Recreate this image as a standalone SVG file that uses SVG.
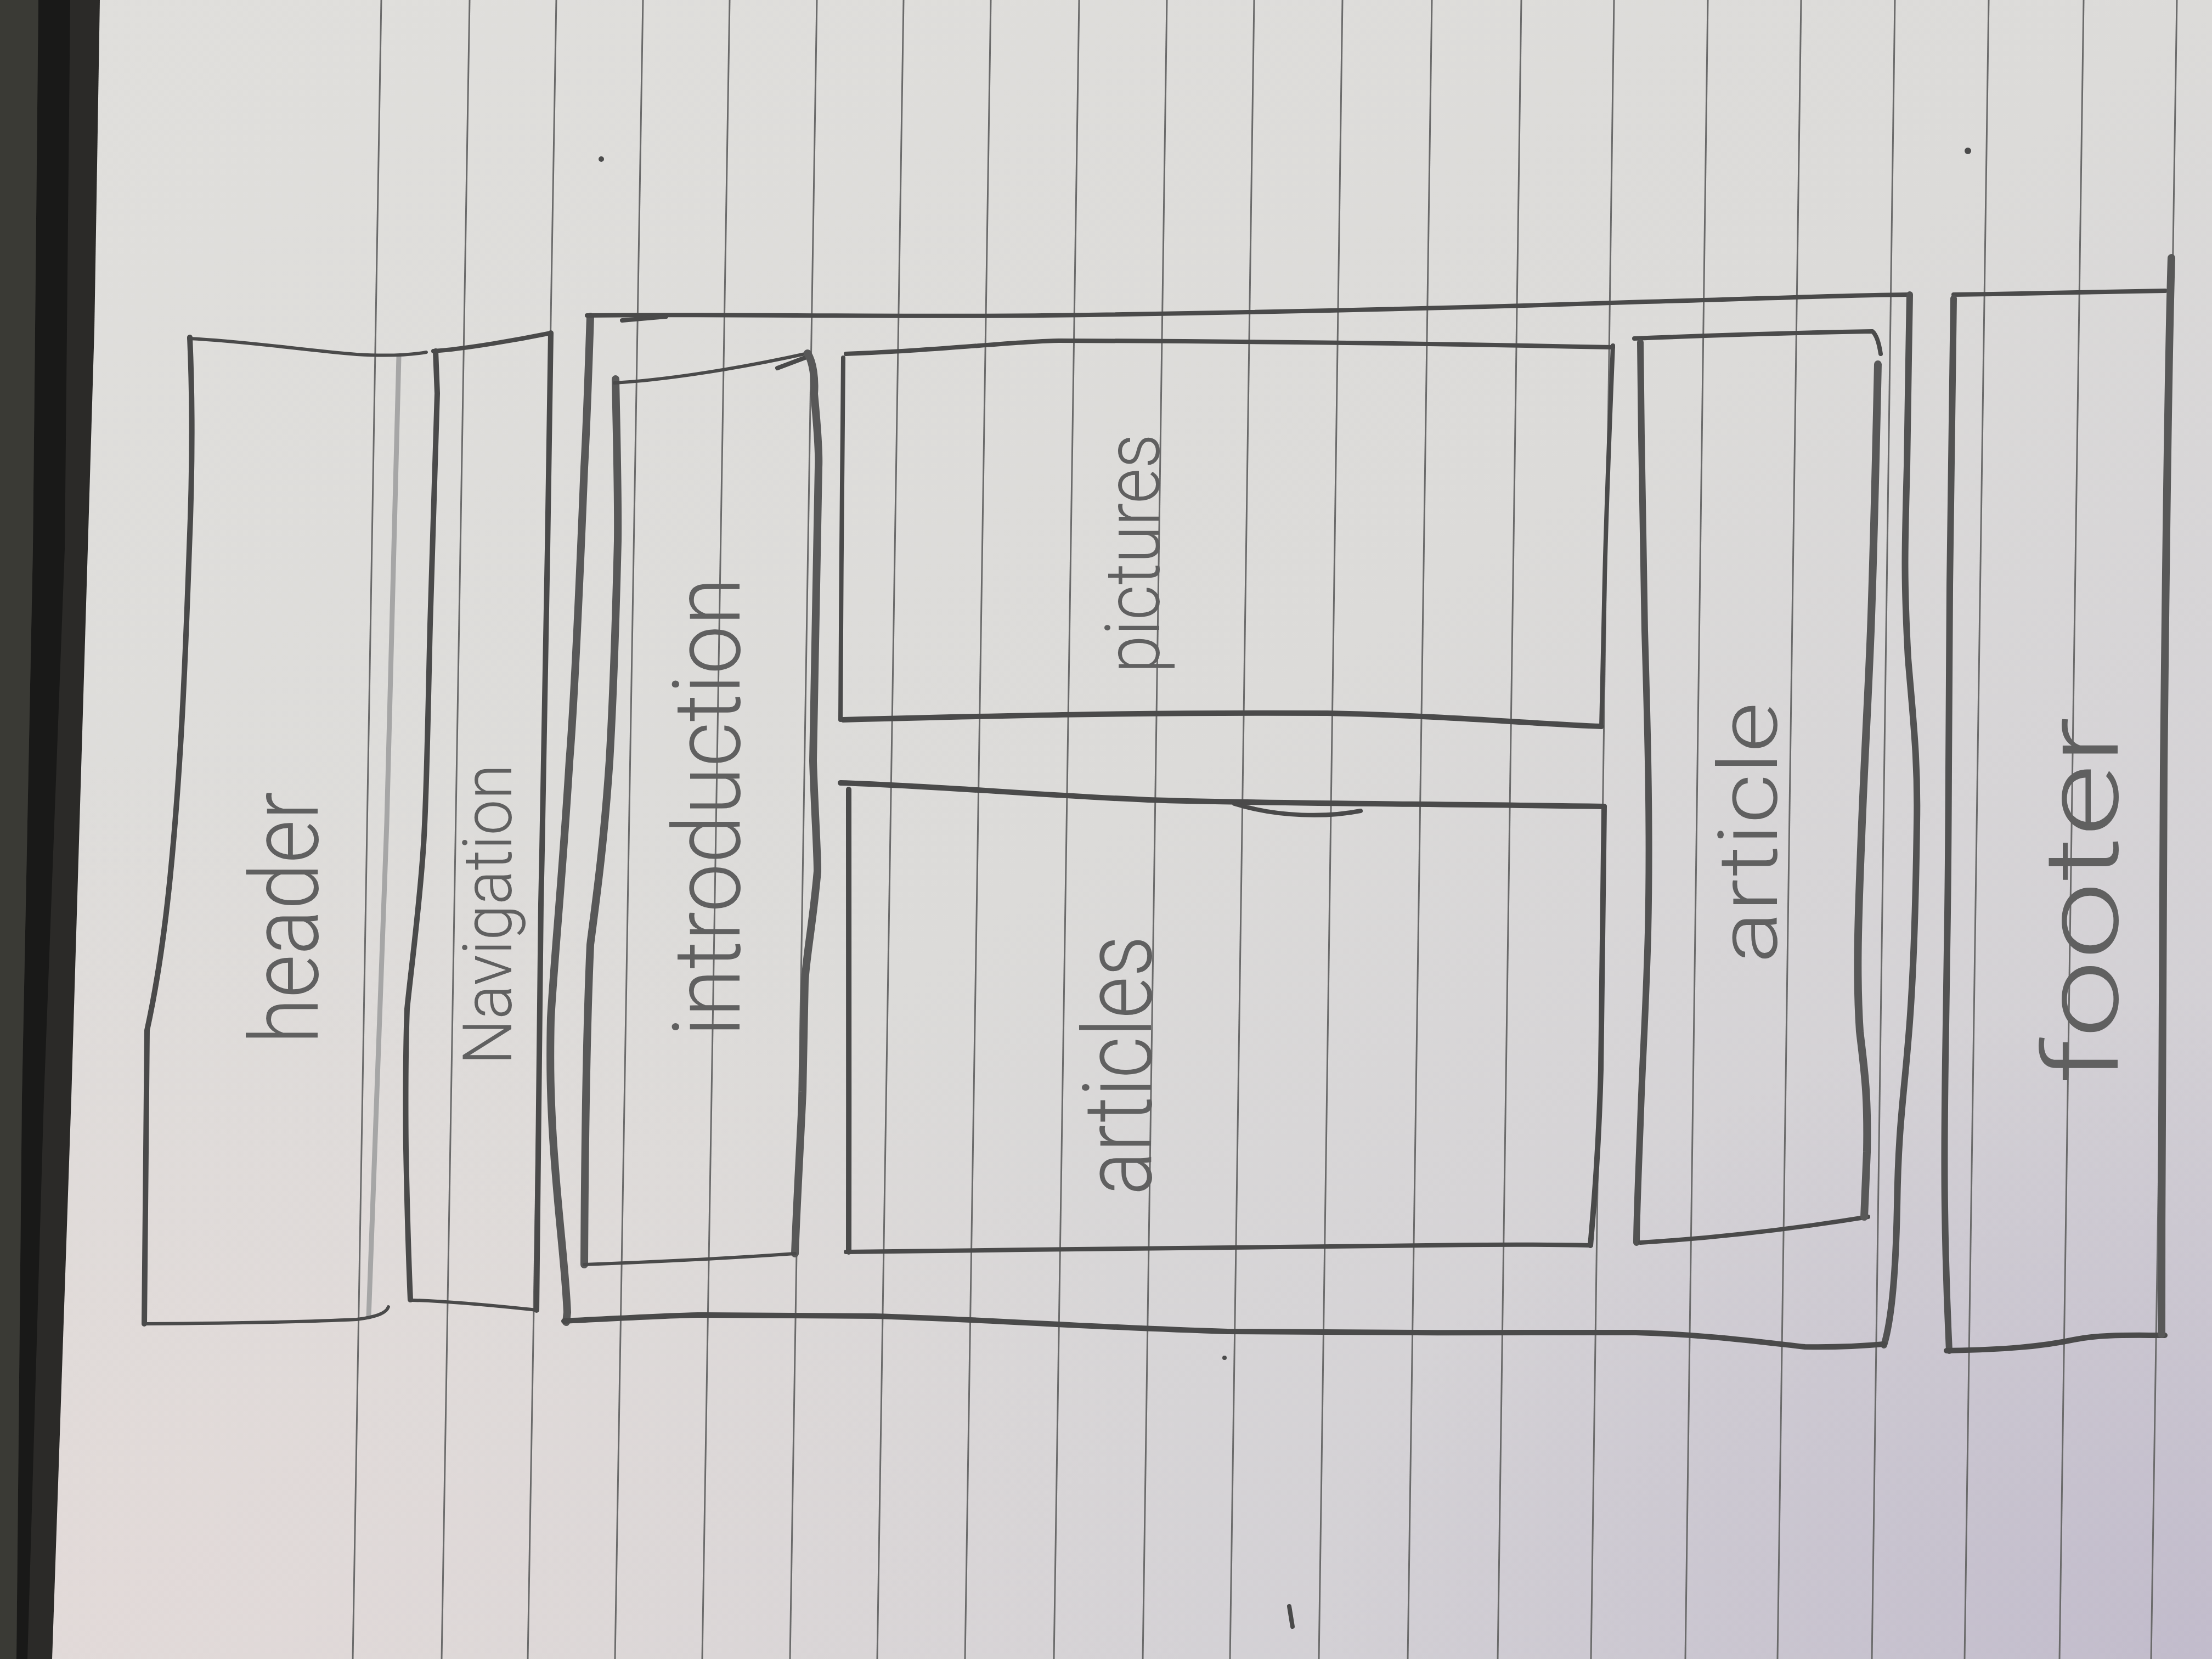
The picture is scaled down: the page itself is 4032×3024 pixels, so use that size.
<svg xmlns="http://www.w3.org/2000/svg" width="4032" height="3024" viewBox="0 0 4032 3024">
  <defs>
    <linearGradient id="paperShade" x1="0" y1="0" x2="1" y2="1">
      <stop offset="0" stop-color="#e0dfdc"/>
      <stop offset="0.5" stop-color="#dcdbd9"/>
      <stop offset="1" stop-color="#cdc9d2"/>
    </linearGradient>
    <radialGradient id="warmCorner" cx="0.05" cy="0.95" r="0.5">
      <stop offset="0" stop-color="#e6d9d8" stop-opacity="0.6"/>
      <stop offset="1" stop-color="#e6d9d8" stop-opacity="0"/>
    </radialGradient>
    <radialGradient id="coolCorner" cx="1" cy="1" r="0.4">
      <stop offset="0" stop-color="#bdb6c9" stop-opacity="0.7"/>
      <stop offset="1" stop-color="#bdb6c9" stop-opacity="0"/>
    </radialGradient>
  </defs>
  <style>
    .rule { stroke: #6a6a6a; stroke-width: 3; fill: none; }
    .pen { fill: none; stroke: #4a4a4a; stroke-linecap: round; stroke-linejoin: round; }
    .w4 { stroke-width: 6; }
    .w6 { stroke-width: 8; }
    .w8 { stroke-width: 10; }
    .w10 { stroke-width: 12; stroke: #525252; }
    .w12 { stroke-width: 14; stroke: #585858; }
    .faint { stroke: #a6a6a6; stroke-width: 9; }
    .label { font-family: Roboto, Lato, "Liberation Sans", sans-serif; font-weight: 300; fill: #606060; text-anchor: middle; }
    .dot { fill: #4b4b4b; }
  </style>

  <!-- desk and page -->
  <g id="paper">
    <rect x="0" y="0" width="4032" height="3024" fill="url(#paperShade)"/>
    <rect x="0" y="0" width="4032" height="3024" fill="url(#warmCorner)"/>
    <rect x="0" y="0" width="4032" height="3024" fill="url(#coolCorner)"/>
    <polygon points="0,0 182,0 172,600 160,1000 130,2000 95,3024 0,3024" fill="#2b2a28"/>
    <polygon points="70,0 128,0 118,1000 80,2000 50,3024 30,3024 40,2000 60,1000" fill="#191918"/>
    <polygon points="0,0 70,0 60,1000 40,2000 30,3024 0,3024" fill="#3a3a35"/>
  </g>

  <!-- ruled lines -->
  <g id="rules">
    <line class="rule" x1="695" y1="0" x2="643" y2="3024"/>
    <line class="rule" x1="856" y1="0" x2="805" y2="3024"/>
    <line class="rule" x1="1014" y1="0" x2="962" y2="3024"/>
    <line class="rule" x1="1172" y1="0" x2="1121" y2="3024"/>
    <line class="rule" x1="1330" y1="0" x2="1280" y2="3024"/>
    <line class="rule" x1="1489" y1="0" x2="1440" y2="3024"/>
    <line class="rule" x1="1647" y1="0" x2="1599" y2="3024"/>
    <line class="rule" x1="1806" y1="0" x2="1759" y2="3024"/>
    <line class="rule" x1="1967" y1="0" x2="1921" y2="3024"/>
    <line class="rule" x1="2127" y1="0" x2="2083" y2="3024"/>
    <line class="rule" x1="2286" y1="0" x2="2242" y2="3024"/>
    <line class="rule" x1="2447" y1="0" x2="2404" y2="3024"/>
    <line class="rule" x1="2610" y1="0" x2="2566" y2="3024"/>
    <line class="rule" x1="2773" y1="0" x2="2730" y2="3024"/>
    <line class="rule" x1="2942" y1="0" x2="2900" y2="3024"/>
    <line class="rule" x1="3113" y1="0" x2="3072" y2="3024"/>
    <line class="rule" x1="3283" y1="0" x2="3240" y2="3024"/>
    <line class="rule" x1="3454" y1="0" x2="3412" y2="3024"/>
    <line class="rule" x1="3625" y1="0" x2="3581" y2="3024"/>
    <line class="rule" x1="3798" y1="0" x2="3754" y2="3024"/>
    <line class="rule" x1="3968" y1="0" x2="3921" y2="3024"/>
  </g>

  <!-- header block -->
  <g id="header">
    <path class="pen faint" d="M727,650 C722,900 715,1200 705,1500 C695,1800 685,2100 672,2400"/>
    <path class="pen w8" d="M346,615 C352,750 350,880 345,1000 C338,1200 330,1400 310,1600 C298,1720 285,1800 268,1878 L266,2100 L263,2413"/>
    <path class="pen w4" d="M344,617 C450,622 550,638 650,646 C720,650 760,645 777,642"/>
    <path class="pen w4" d="M265,2413 C400,2412 550,2410 650,2405 C690,2400 705,2392 708,2382"/>
    <text class="label" font-size="175" textLength="460" lengthAdjust="spacingAndGlyphs" transform="translate(579,1673) rotate(-90)">header</text>
  </g>

  <!-- navigation block -->
  <g id="navigation">
    <path class="pen w8" d="M794,640 L797,717 C792,900 788,1050 784,1138 C780,1300 778,1450 772,1540 C765,1650 750,1760 742,1839 C738,1950 740,2094 740,2094 C742,2200 745,2300 748,2369"/>
    <path class="pen w6" d="M790,640 C850,636 950,618 1004,607"/>
    <path class="pen w8" d="M1004,607 C1003,750 1001,883 998,1000 C995,1265 990,1450 986,1648 C984,1850 981,2031 980,2200 L978,2388"/>
    <path class="pen w4" d="M751,2370 C830,2372 920,2382 978,2388"/>
    <text class="label" font-size="125" textLength="548" lengthAdjust="spacingAndGlyphs" transform="translate(932,1667) rotate(-90)">Navigation</text>
  </g>

  <!-- main content frame -->
  <g id="main">
    <path class="pen w12" d="M1076,577 C1072,700 1068,800 1065,852 C1055,1100 1045,1300 1038,1387 C1025,1600 1010,1750 1004,1856 C1002,1950 1004,2000 1007,2057 C1015,2200 1030,2300 1034,2392 L1032,2410"/>
    <path class="pen w6" d="M1070,575 C1300,572 1600,578 1900,575 C2300,570 2700,560 3000,550 C3200,545 3350,538 3481,537"/>
    <path class="pen w10" d="M3481,537 C3479,650 3478,718 3476,850 C3472,1000 3470,1053 3478,1200 C3488,1320 3496,1387 3494,1500 C3492,1650 3488,1789 3478,1900 C3470,2000 3460,2057 3458,2200 C3456,2300 3450,2400 3434,2452"/>
    <path class="pen w8" d="M1028,2408 C1150,2402 1250,2396 1285,2397 C1400,2398 1500,2398 1594,2399 C1800,2405 2000,2420 2237,2427 C2400,2429 2800,2430 2982,2429 C3100,2432 3200,2445 3290,2455 C3350,2456 3400,2453 3434,2450"/>
  </g>

  <!-- introduction block -->
  <g id="introduction">
    <path class="pen w12" d="M1122,691 C1124,800 1127,900 1126,986 C1122,1150 1116,1300 1111,1387 C1100,1550 1085,1650 1076,1722 C1068,1900 1066,2100 1065,2305"/>
    <path class="pen w6" d="M1134,584 L1214,577"/>
    <path class="pen w4" d="M1120,698 C1250,690 1400,660 1472,644"/>
    <path class="pen w6" d="M1417,671 L1470,651"/>
    <path class="pen w12" d="M1472,644 C1482,660 1486,690 1484,718 C1490,780 1493,830 1492,852 C1488,1100 1483,1300 1482,1387 C1485,1480 1490,1550 1490,1588 C1482,1680 1470,1740 1467,1789 C1465,1900 1463,1990 1463,1990 C1458,2100 1452,2200 1449,2285"/>
    <path class="pen w4" d="M1065,2305 C1200,2300 1350,2292 1449,2285"/>
    <text class="label" font-size="170" textLength="837" lengthAdjust="spacingAndGlyphs" transform="translate(1348,1471) rotate(-90)">introduction</text>
  </g>

  <!-- pictures block -->
  <g id="pictures">
    <path class="pen w6" d="M1542,645 C1700,640 1850,622 1930,621 C2300,622 2700,628 2940,633"/>
    <path class="pen w6" d="M2940,630 C2933,800 2926,985 2924,1100 C2922,1200 2920,1280 2919,1324"/>
    <path class="pen w8" d="M1537,1312 C1800,1305 2100,1298 2419,1300 C2650,1305 2800,1320 2919,1324"/>
    <path class="pen w6" d="M1537,652 C1535,850 1533,1100 1532,1312"/>
    <text class="label" font-size="140" textLength="436" lengthAdjust="spacingAndGlyphs" transform="translate(2113,1009) rotate(-90)">pictures</text>
  </g>

  <!-- articles block -->
  <g id="articles">
    <path class="pen w8" d="M1532,1427 C1700,1432 1900,1450 2093,1458 C2300,1465 2600,1465 2924,1470"/>
    <path class="pen w6" d="M2250,1465 C2330,1490 2420,1490 2480,1478"/>
    <path class="pen w8" d="M1547,1439 C1548,1700 1547,2000 1547,2282"/>
    <path class="pen w6" d="M1542,2282 C1900,2278 2300,2272 2600,2270 C2750,2268 2850,2269 2899,2270"/>
    <path class="pen w8" d="M2924,1470 C2922,1650 2919,1833 2918,1950 C2914,2100 2905,2200 2899,2270"/>
    <text class="label" font-size="175" textLength="473" lengthAdjust="spacingAndGlyphs" transform="translate(2098,1942) rotate(-90)">articles</text>
  </g>

  <!-- article block -->
  <g id="article">
    <path class="pen w6" d="M2979,617 C3100,612 3300,606 3413,604 C3420,610 3425,625 3428,645"/>
    <path class="pen w10" d="M2990,624 C2992,800 2994,986 2998,1150 C3004,1350 3008,1521 3004,1700 C3000,1850 2994,1923 2990,2050 C2986,2150 2983,2245 2983,2265"/>
    <path class="pen w6" d="M2990,2265 C3150,2255 3300,2235 3405,2218"/>
    <path class="pen w12" d="M3423,664 C3420,800 3416,986 3410,1150 C3404,1300 3398,1387 3392,1550 C3386,1700 3384,1789 3390,1880 C3398,1950 3405,1990 3403,2100 L3398,2218"/>
    <text class="label" font-size="150" textLength="476" lengthAdjust="spacingAndGlyphs" transform="translate(3239,1518) rotate(-90)">article</text>
  </g>

  <!-- footer block -->
  <g id="footer">
    <path class="pen w6" d="M3561,537 C3700,535 3850,532 3947,530"/>
    <path class="pen w10" d="M3561,544 C3556,800 3553,1120 3552,1400 C3551,1655 3550,1655 3548,1800 C3546,1950 3543,2057 3545,2200 C3547,2350 3553,2459 3553,2462"/>
    <path class="pen w8" d="M3548,2462 C3650,2460 3720,2455 3780,2442 C3830,2432 3880,2434 3946,2434"/>
    <path class="pen w12" d="M3958,470 C3951,700 3947,1120 3944,1400 C3941,1789 3940,2100 3940,2432"/>
    <text class="label" font-size="190" textLength="670" lengthAdjust="spacingAndGlyphs" transform="translate(3860,1642) rotate(-90)">footer</text>
  </g>

  <!-- stray pencil marks -->
  <g id="marks">
    <circle class="dot" cx="3587" cy="275" r="6"/>
    <circle class="dot" cx="1096" cy="290" r="5"/>
    <circle class="dot" cx="2232" cy="2475" r="4"/>
    <path class="pen w6" d="M2350,2928 L2356,2965"/>
  </g>
</svg>
